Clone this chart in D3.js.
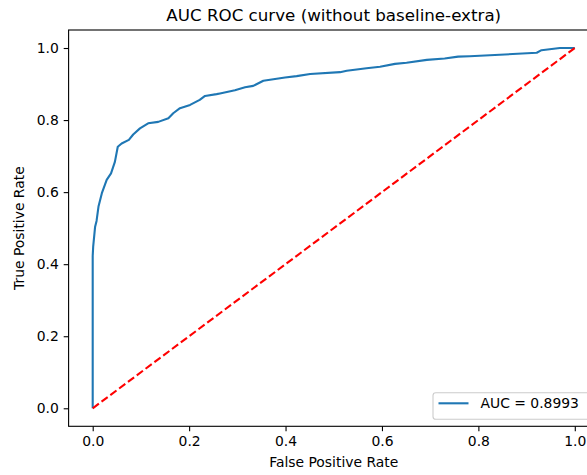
<!DOCTYPE html>
<html>
<head>
<meta charset="utf-8">
<script src="https://cdn.jsdelivr.net/npm/d3@7"></script>
<style>
  body { margin: 0; background: #fff; }
  text { font-family: "DejaVu Sans", sans-serif; fill: #000; }
</style>
</head>
<body>
<script>
// ROC points
const fpr = [0, 0, 0.001, 0.005, 0.008, 0.012, 0.019, 0.029, 0.038, 0.046, 0.052, 0.06, 0.075, 0.084,
  0.098, 0.115, 0.136, 0.157, 0.167, 0.181, 0.202, 0.222, 0.233, 0.257, 0.264, 0.295, 0.316, 0.333,
  0.354, 0.399, 0.423, 0.451, 0.513, 0.527, 0.568, 0.596, 0.627, 0.651, 0.693, 0.73, 0.758, 0.782,
  0.855, 0.921, 0.931, 0.969, 1];
const tpr = [0, 0.423, 0.449, 0.504, 0.52, 0.56, 0.597, 0.634, 0.652, 0.684, 0.726, 0.735, 0.745, 0.76,
  0.777, 0.791, 0.795, 0.805, 0.819, 0.833, 0.842, 0.856, 0.867, 0.872, 0.874, 0.883, 0.891, 0.895,
  0.909, 0.918, 0.922, 0.928, 0.933, 0.937, 0.944, 0.948, 0.956, 0.959, 0.967, 0.971, 0.976, 0.977,
  0.982, 0.987, 0.994, 1, 1];
const baseline = [0, 1];
const ticks = [0, 0.2, 0.4, 0.6, 0.8, 1.0];
const aucLabel = 'AUC = 0.8993';

const W = 587, H = 475;
const margin = { left: 68.6, right: 598.9, top: 30, bottom: 426.3 };

const svg = d3.select('body').append('svg')
  .attr('width', W)
  .attr('height', H);

const x = d3.scaleLinear().domain([-0.05, 1.05]).range([margin.left, margin.right]);
const y = d3.scaleLinear().domain([-0.05, 1.05]).range([margin.bottom, margin.top]);

const line = d3.line()
  .x(d => x(d[0]))
  .y(d => y(d[1]));

// ROC curve
svg.append('path')
  .datum(fpr.map((f, i) => [f, tpr[i]]))
  .attr('fill', 'none')
  .attr('stroke', '#1f77b4')
  .attr('stroke-width', 2.1)
  .attr('stroke-linejoin', 'round')
  .attr('d', line);

// chance line
svg.append('path')
  .datum(baseline.map(v => [v, v]))
  .attr('fill', 'none')
  .attr('stroke', 'red')
  .attr('stroke-width', 2.1)
  .attr('stroke-dasharray', '7.7,3.3')
  .attr('d', line);

// axes
const xAxis = d3.axisBottom(x).tickValues(ticks).tickFormat(d3.format('.1f'))
  .tickSize(4.9).tickPadding(4.9);
const yAxis = d3.axisLeft(y).tickValues(ticks).tickFormat(d3.format('.1f'))
  .tickSize(4.9).tickPadding(4.9);

const gx = svg.append('g').attr('transform', `translate(0,${margin.bottom})`).call(xAxis);
const gy = svg.append('g').attr('transform', `translate(${margin.left},0)`).call(yAxis);
[gx, gy].forEach(g => {
  g.select('.domain').remove();
  g.selectAll('line').attr('stroke', '#000').attr('stroke-width', 1.1);
  g.selectAll('text').style('font-size', '13.9px').style('font-family', '"DejaVu Sans", sans-serif').attr('fill', '#000');
});

// spines
svg.append('rect')
  .attr('x', margin.left).attr('y', margin.top)
  .attr('width', margin.right - margin.left).attr('height', margin.bottom - margin.top)
  .attr('fill', 'none')
  .attr('stroke', '#000')
  .attr('stroke-width', 1.1);

// title and labels
const cx = (margin.left + margin.right) / 2;
svg.append('text')
  .attr('x', cx)
  .attr('y', 21)
  .attr('text-anchor', 'middle')
  .style('font-size', '16.7px')
  .text('AUC ROC curve (without baseline-extra)');

svg.append('text')
  .attr('x', cx)
  .attr('y', 467)
  .attr('text-anchor', 'middle')
  .style('font-size', '13.9px')
  .text('False Positive Rate');

svg.append('text')
  .attr('transform', `translate(24,${(margin.top + margin.bottom) / 2}) rotate(-90)`)
  .attr('text-anchor', 'middle')
  .style('font-size', '13.9px')
  .text('True Positive Rate');

// legend
const legend = svg.append('g');
legend.append('rect')
  .attr('x', 433).attr('y', 392.7)
  .attr('width', 159).attr('height', 26.5)
  .attr('rx', 2.8)
  .attr('fill', '#fff')
  .attr('fill-opacity', 0.8)
  .attr('stroke', '#ccc')
  .attr('stroke-width', 1.1);
legend.append('line')
  .attr('x1', 438.5).attr('x2', 468.5)
  .attr('y1', 403.3).attr('y2', 403.3)
  .attr('stroke', '#1f77b4')
  .attr('stroke-width', 2.1);
legend.append('text')
  .attr('x', 480.5)
  .attr('y', 408.3)
  .style('font-size', '13.9px')
  .text(aucLabel);
</script>
</body>
</html>
